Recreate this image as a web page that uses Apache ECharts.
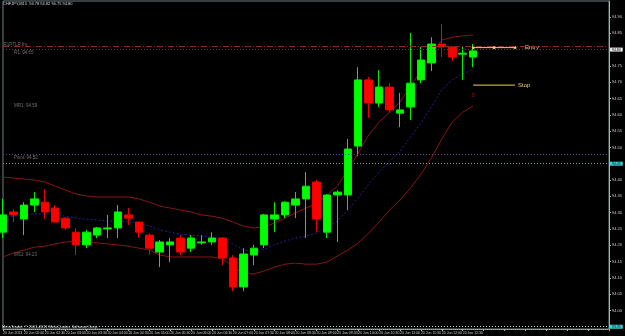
<!DOCTYPE html>
<html>
<head>
<meta charset="utf-8">
<script src="https://cdn.jsdelivr.net/npm/echarts@6/dist/echarts.min.js"></script>
<style>
html, body { margin: 0; padding: 0; background: #000; }
#chart { width: 625px; height: 336px; }
</style>
</head>
<body>
<div id="chart"></div>
<script>
// 15 minute bars, 20 Jun
var dayLabel = '20 Jun';
var yearLabel = '2013';
var times = ['01:30', '01:45', '02:00', '02:15', '02:30', '02:45', '03:00', '03:15', '03:30', '03:45',
    '04:00', '04:15', '04:30', '04:45', '05:00', '05:15', '05:30', '05:45', '06:00', '06:15',
    '06:30', '06:45', '07:00', '07:15', '07:30', '07:45', '08:00', '08:15', '08:30', '08:45',
    '09:00', '09:15', '09:30', '09:45', '10:00', '10:15', '10:30', '10:45', '11:00', '11:15',
    '11:30', '11:45', '12:00', '12:15', '12:30', '12:45'];
var emptySlots = 13;

var openPrices = [94.240, 94.302, 94.280, 94.323, 94.332, 94.314, 94.283, 94.240, 94.201, 94.231,
    94.250, 94.253, 94.293, 94.271, 94.231, 94.179, 94.201, 94.222, 94.191, 94.207,
    94.210, 94.222, 94.161, 94.072, 94.170, 94.201, 94.280, 94.293, 94.323, 94.342,
    94.394, 94.240, 94.354, 94.354, 94.504, 94.707, 94.636, 94.685, 94.605, 94.624,
    94.707, 94.759, 94.817, 94.808, 94.786, 94.777];
var closePrices = [94.293, 94.293, 94.323, 94.342, 94.302, 94.271, 94.253, 94.201, 94.240, 94.253,
    94.253, 94.302, 94.283, 94.240, 94.191, 94.210, 94.210, 94.179, 94.222, 94.210,
    94.222, 94.161, 94.072, 94.173, 94.191, 94.293, 94.293, 94.332, 94.342, 94.381,
    94.280, 94.354, 94.363, 94.495, 94.707, 94.636, 94.685, 94.615, 94.615, 94.697,
    94.768, 94.817, 94.808, 94.777, 94.789, 94.796];
var lowPrices = [94.222, 94.271, 94.231, 94.302, 94.280, 94.271, 94.247, 94.170, 94.191, 94.222,
    94.222, 94.222, 94.262, 94.222, 94.170, 94.133, 94.148, 94.170, 94.179, 94.201,
    94.201, 94.139, 94.059, 94.059, 94.139, 94.191, 94.240, 94.283, 94.283, 94.222,
    94.240, 94.222, 94.210, 94.308, 94.473, 94.590, 94.624, 94.605, 94.562, 94.584,
    94.697, 94.734, 94.777, 94.765, 94.707, 94.746];
var highPrices = [94.342, 94.311, 94.332, 94.363, 94.372, 94.323, 94.286, 94.253, 94.247, 94.256,
    94.293, 94.323, 94.314, 94.271, 94.237, 94.216, 94.222, 94.231, 94.231, 94.231,
    94.240, 94.225, 94.170, 94.191, 94.201, 94.296, 94.332, 94.335, 94.363, 94.424,
    94.400, 94.357, 94.369, 94.526, 94.746, 94.716, 94.737, 94.697, 94.667, 94.851,
    94.808, 94.838, 94.878, 94.808, 94.808, 94.817];

// bollinger bands
var bandUpper = [94.409, 94.406, 94.403, 94.400, 94.394, 94.381, 94.369, 94.357, 94.351, 94.348,
    94.348, 94.348, 94.348, 94.342, 94.332, 94.320, 94.314, 94.308, 94.302, 94.293,
    94.289, 94.283, 94.271, 94.259, 94.253, 94.256, 94.268, 94.283, 94.299, 94.314,
    94.329, 94.354, 94.381, 94.431, 94.483, 94.538, 94.578, 94.608, 94.639, 94.688,
    94.734, 94.783, 94.829, 94.838, 94.842, 94.845];
var bandMiddle = [94.286, 94.289, 94.293, 94.296, 94.296, 94.293, 94.289, 94.283, 94.280, 94.277,
    94.274, 94.274, 94.271, 94.268, 94.259, 94.247, 94.240, 94.234, 94.231, 94.228,
    94.225, 94.219, 94.204, 94.185, 94.182, 94.188, 94.201, 94.213, 94.222, 94.228,
    94.237, 94.253, 94.274, 94.308, 94.345, 94.388, 94.424, 94.458, 94.489, 94.532,
    94.575, 94.624, 94.676, 94.707, 94.725, 94.740];
var bandLower = [94.164, 94.176, 94.185, 94.194, 94.197, 94.204, 94.210, 94.213, 94.210, 94.207,
    94.204, 94.201, 94.197, 94.191, 94.185, 94.170, 94.164, 94.164, 94.164, 94.164,
    94.164, 94.158, 94.136, 94.112, 94.112, 94.121, 94.133, 94.142, 94.145, 94.142,
    94.142, 94.148, 94.167, 94.185, 94.207, 94.237, 94.271, 94.308, 94.339, 94.375,
    94.418, 94.467, 94.526, 94.578, 94.608, 94.627];

var priceTicks = [94.90, 94.85, 94.80, 94.75, 94.70, 94.65, 94.60, 94.55, 94.50, 94.45,
    94.40, 94.35, 94.30, 94.25, 94.20, 94.15, 94.10, 94.05, 94.00];

var entryPrice = 94.806;
var stopPrice = 94.691;
var tradeStart = 45, tradeMid = 47, tradeEnd = 49;

var r1LinePrice = 94.806;
var bidPrice = 94.799;
var pivotLinePrice = 94.477;
var levelLinePrice = 94.446;
var topLinePrice = 94.946;
var bottomLinePrice = 93.946;

var notes = [
    { name: 'R1PTLR.fm', value: [0, 94.814] },
    { name: 'R1: 94.65', value: [1, 94.789] },
    { name: 'MR1: 94.59', value: [1, 94.627] },
    { name: 'Pivot: 94.52', value: [1, 94.467] },
    { name: 'MS1: 94.23', value: [1, 94.170] }
];
var zeroMark = [{ name: '0', value: [45, 94.658] }];

var categories = times.concat(new Array(emptySlots).fill(''));
var candles = openPrices.map(function (o, i) {
    return [o, closePrices[i], lowPrices[i], highPrices[i]];
});

var font = 'Liberation Sans';

function tag(bg, fg) {
    return {
        show: true,
        position: 'end',
        distance: 1,
        formatter: function (p) { return p.value.toFixed(2); },
        backgroundColor: bg,
        color: fg,
        fontSize: 3.5,
        fontFamily: font,
        padding: [0, 2]
    };
}

var myChart = echarts.init(document.getElementById('chart'));
var option = {
    backgroundColor: '#000',
    animation: false,
    title: {
        text: 'CHFJPY,M15  94.78 94.82 94.75 94.80',
        left: 3,
        top: 2,
        padding: 0,
        textStyle: { color: '#d8d8d8', fontSize: 4, fontWeight: 'normal', fontFamily: font }
    },
    graphic: [{
        type: 'text',
        left: 2,
        top: 325,
        style: {
            text: 'MetaTrader, \u00a9 2001-2011 MetaQuotes Software Corp.',
            fill: '#d8d8d8',
            font: '4px ' + font
        }
    }],
    grid: {
        left: 2,
        right: 12,
        top: 1,
        bottom: 7,
        show: true,
        borderColor: '#6f8080',
        borderWidth: 1
    },
    xAxis: {
        type: 'category',
        data: categories,
        boundaryGap: false,
        axisLine: { lineStyle: { color: '#b0b0b0', type: 'dotted' } },
        axisTick: { show: true, interval: 1, length: 2, lineStyle: { color: '#b0b0b0' } },
        axisLabel: {
            interval: 1,
            align: 'left',
            fontSize: 3.5,
            fontFamily: font,
            color: '#cfcfcf',
            margin: 2,
            formatter: function (v, i) {
                if (!v) return '';
                return i === 0 ? dayLabel + ' ' + yearLabel : dayLabel + ' ' + v;
            }
        },
        splitLine: { show: false }
    },
    yAxis: {
        type: 'value',
        position: 'right',
        min: 93.943,
        max: 94.949,
        splitLine: { show: false },
        axisLine: { show: true, lineStyle: { color: '#b0b0b0' } },
        axisTick: { show: true, length: 2, customValues: priceTicks, lineStyle: { color: '#b0b0b0' } },
        axisLabel: {
            customValues: priceTicks,
            fontSize: 4,
            fontFamily: font,
            color: '#cfcfcf',
            margin: 3,
            formatter: function (v) { return v.toFixed(2); }
        }
    },
    series: [
        {
            name: 'price',
            type: 'candlestick',
            data: candles,
            barWidth: 8,
            clip: true,
            itemStyle: {
                color: '#00ff00',
                color0: '#ff0000',
                borderColor: '#00ee00',
                borderColor0: '#ee0000',
                borderColorDoji: '#00ee00',
                borderWidth: 1
            },
            z: 3
        },
        {
            name: 'upper',
            type: 'line',
            data: bandUpper,
            symbol: 'none',
            lineStyle: { color: '#8c1414', width: 1 },
            z: 2
        },
        {
            name: 'lower',
            type: 'line',
            data: bandLower,
            symbol: 'none',
            lineStyle: { color: '#8c1414', width: 1 },
            z: 2
        },
        {
            name: 'middle',
            type: 'line',
            data: bandMiddle,
            symbol: 'none',
            lineStyle: { color: '#22229a', width: 1, type: [2, 2] },
            z: 2
        },
        {
            name: 'levels',
            type: 'line',
            data: [],
            markLine: {
                silent: true,
                symbol: ['none', 'none'],
                animation: false,
                data: [
                    { yAxis: r1LinePrice, lineStyle: { color: '#8a2c2c', width: 1, type: [6, 2, 1, 2] }, label: { show: false } },
                    { yAxis: bidPrice, lineStyle: { color: '#6e3a3a', width: 1, type: [1, 2] }, label: tag('#e8e8e8', '#000') },
                    { yAxis: pivotLinePrice, lineStyle: { color: '#6b3f8f', width: 1, type: [1, 2] }, label: { show: false } },
                    { yAxis: levelLinePrice, lineStyle: { color: '#7fa3a3', width: 1, type: [1, 2] }, label: tag('#3fd2d2', '#003') },
                    { yAxis: topLinePrice, lineStyle: { color: '#5fa0a0', width: 1, type: [1, 2] }, label: tag('#3fd2d2', '#003') },
                    { yAxis: bottomLinePrice, lineStyle: { color: '#c8d8d8', width: 1, type: [1, 2] }, label: tag('#3fd2d2', '#003') }
                ]
            },
            z: 1
        },
        {
            name: 'Entry',
            type: 'line',
            data: [[tradeStart, entryPrice], [tradeMid, entryPrice], [tradeEnd, entryPrice]],
            symbol: 'circle',
            symbolSize: 3,
            showSymbol: true,
            lineStyle: { color: '#f0d048', width: 1 },
            itemStyle: { color: '#f0d048' },
            endLabel: { show: true, formatter: 'Entry', distance: 10, color: '#ecd27f', fontSize: 6, fontFamily: font },
            z: 4
        },
        {
            name: 'Stop',
            type: 'line',
            data: [[tradeStart, stopPrice], [tradeEnd, stopPrice]],
            symbol: 'none',
            lineStyle: { color: '#f0d048', width: 1 },
            endLabel: { show: true, formatter: 'Stop', distance: 3, color: '#ecd27f', fontSize: 6, fontFamily: font },
            z: 4
        },
        {
            name: 'notes',
            type: 'scatter',
            data: notes,
            symbolSize: 1,
            itemStyle: { color: 'transparent' },
            label: {
                show: true,
                position: 'right',
                distance: 0,
                formatter: '{b}',
                color: '#8c8c8c',
                fontSize: 4.5,
                fontFamily: font
            },
            z: 5
        },
        {
            name: 'zero',
            type: 'scatter',
            data: zeroMark,
            symbolSize: 1,
            itemStyle: { color: 'transparent' },
            label: {
                show: true,
                position: 'inside',
                formatter: '{b}',
                color: '#d02020',
                fontSize: 5,
                fontFamily: font
            },
            z: 5
        }
    ]
};
myChart.setOption(option);
</script>
</body>
</html>
